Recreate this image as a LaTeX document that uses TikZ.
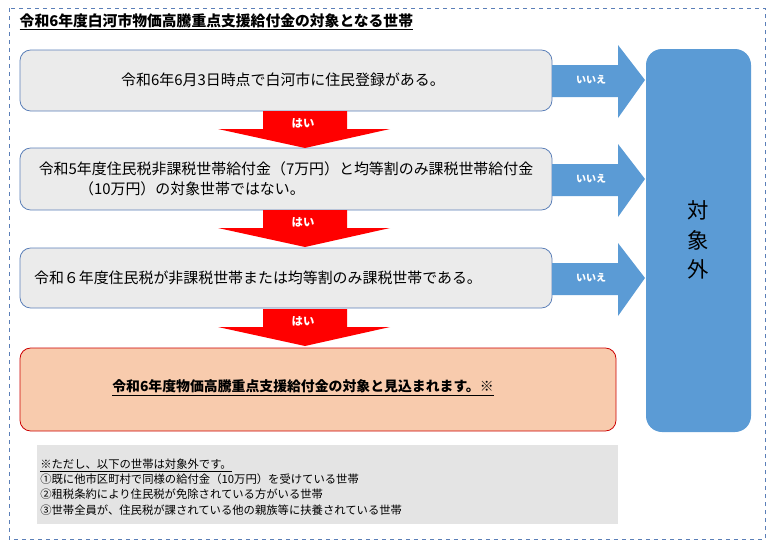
\documentclass[tikz,border=0pt]{standalone}
\usepackage{fontspec}
\setmainfont{Noto Sans CJK JP}
\usetikzlibrary{positioning,calc}
\definecolor{boxgray}{HTML}{EBEBEB}
\definecolor{boxline}{HTML}{5B7FB8}
\definecolor{blueok}{HTML}{5B9BD5}
\definecolor{salmon}{HTML}{F8CBAD}
\definecolor{notegray}{HTML}{E4E4E4}
\tikzset{
  qbox/.style={draw=boxline,fill=boxgray,rounded corners=8pt,line width=0.6pt},
  nobox/.style={fill=blueok,draw=none},
  yesarrow/.style={fill=red,draw=none},
  lbl/.style={text=white,font=\fontsize{7.5}{9}\selectfont\bfseries},
  qtext/.style={font=\fontsize{11.2}{15}\selectfont,align=left}
}
\begin{document}
\begin{tikzpicture}[x=0.75pt,y=-0.75pt]
  \useasboundingbox (0,0) rectangle (770,546);
  \draw[boxline,dashed,line width=0.6pt] (9,8) rectangle (765,539);
  \node[anchor=west,font=\fontsize{11.1}{13}\selectfont\bfseries] (title) at (15,22) {\underline{令和6年度白河市物価高騰重点支援給付金の対象となる世帯}};
  % question boxes
  \draw[qbox] (20,50) rectangle (552,111);
  \node[qtext] (q1) at (283,80) {令和6年6月3日時点で白河市に住民登録がある。};
  \draw[qbox] (20,148) rectangle (552,210);
  \node[qtext] (q2) at (286,179) {令和5年度住民税非課税世帯給付金（7万円）と均等割のみ課税世帯給付金\\\hspace{2.7em}（10万円）の対象世帯ではない。};
  \draw[qbox] (20,248) rectangle (552,308);
  \node[qtext] (q3) at (258,278) {令和６年度住民税が非課税世帯または均等割のみ課税世帯である。};
  % result box
  \draw[fill=salmon,draw=red!80!black,rounded corners=8pt,line width=0.6pt] (20,348) rectangle (616,431);
  \node[font=\fontsize{10.4}{12}\selectfont\bfseries] (ok) at (303,388) {\underline{令和6年度物価高騰重点支援給付金の対象と見込まれます。※}};
  % out box
  \draw[nobox,rounded corners=12pt] (646,49) rectangle (751,432);
  \node[font=\fontsize{16}{22}\selectfont,align=center] (out) at (698,240) {対\\象\\外};
  % arrows
  \foreach \cy/\nm in {80/n1,179/n2,278/n3}{
    \fill[blueok] (552,\cy-15) -- (618,\cy-15) -- (618,\cy-35) -- (645,\cy) -- (618,\cy+38) -- (618,\cy+17) -- (552,\cy+17) -- cycle;
    \node[lbl] (\nm) at (591,\cy) {いいえ};
  }
  \foreach \ty/\nm in {111/y1,210/y2,309/y3}{
    \fill[yesarrow] (263,\ty) -- (347,\ty) -- (347,\ty+18) -- (390,\ty+18) -- (305,\ty+37) -- (218,\ty+18) -- (263,\ty+18) -- cycle;
    \node[lbl,font=\fontsize{8.5}{10}\selectfont\bfseries] (\nm) at (303,\ty+12) {はい};
  }
  % note
  \fill[notegray] (37,445) rectangle (618,524);
  \node[anchor=north west,align=left,font=\fontsize{8.5}{11.3}\selectfont,inner sep=0pt] (note) at (40,459) {\underline{※ただし、以下の世帯は対象外です。}\\①既に他市区町村で同様の給付金（10万円）を受けている世帯\\②租税条約により住民税が免除されている方がいる世帯\\③世帯全員が、住民税が課されている他の親族等に扶養されている世帯};
\end{tikzpicture}
\end{document}
